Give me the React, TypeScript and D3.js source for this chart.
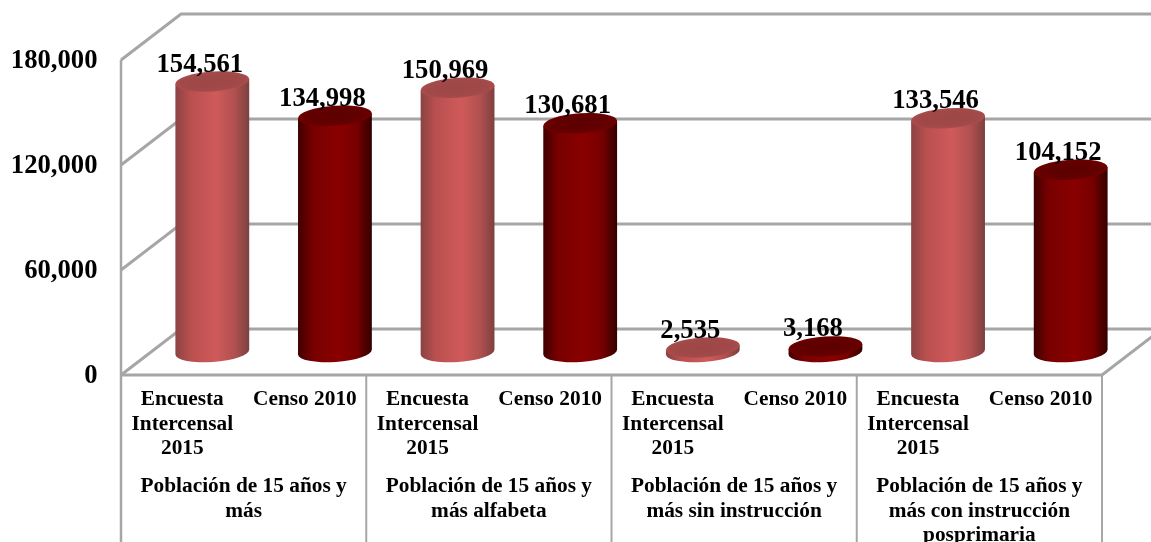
import { scaleBand, scaleLinear, format } from 'd3';

const width = 1151;
const height = 542;

const groups = [
  ['Población de 15 años y', 'más'],
  ['Población de 15 años y', 'más alfabeta'],
  ['Población de 15 años y', 'más sin instrucción'],
  ['Población de 15 años y', 'más con instrucción', 'posprimaria'],
];
const seriesNames = ['encuesta', 'censo'];
const seriesLabels = [['Encuesta', 'Intercensal', '2015'], ['Censo 2010']];
const encuesta = [154561, 150969, 2535, 133546];
const censo = [134998, 130681, 3168, 104152];
const ticks = [0, 60000, 120000, 180000];

// floor / wall geometry
const left = 121;
const right = 1102;
const depthX = 60;
const depthY = 46;
const grey = '#a6a6a6';
const font = '"Liberation Serif", "Times New Roman", serif';

const yFront = scaleLinear().domain([0, 180000]).range([375, 60]);
const yBack = (v: number) => yFront(v) - depthY;
const yBar = (v: number) => yFront(v) - depthY / 2;

const groupIds = groups.map((_, i) => String(i));
const xGroup = scaleBand().domain(groupIds).range([left, right]);
const xSeries = scaleBand().domain(seriesNames).range([0, xGroup.bandwidth()]);

const rx = 37;
const ry = 10;
const tilt = -4;

function Cylinder({ cx, value, name }: { cx: number; value: number; name: string }) {
  const top = yBar(value);
  const bottom = yBar(0);
  const dx = rx * Math.cos((tilt * Math.PI) / 180);
  const dy = rx * Math.sin((tilt * Math.PI) / 180);
  const body = `M${cx - dx},${top - dy} L${cx - dx},${bottom - dy} A${rx},${ry} ${tilt} 0 0 ${cx + dx},${bottom + dy} L${cx + dx},${top + dy} Z`;
  return (
    <g>
      <path d={body} fill={`url(#body-${name})`} />
      <ellipse
        cx={cx}
        cy={top}
        rx={rx}
        ry={ry}
        fill={`url(#top-${name})`}
        transform={`rotate(${tilt} ${cx} ${top})`}
      />
    </g>
  );
}

export default function App() {
  const fmt = format(',');
  const bars = groupIds.flatMap((g, i) =>
    seriesNames.map((s) => ({
      key: `${g}-${s}`,
      name: s,
      value: s === 'encuesta' ? encuesta[i] : censo[i],
      front: (xGroup(g) as number) + (xSeries(s) as number) + xSeries.bandwidth() / 2,
    }))
  );

  return (
    <svg
      width={width}
      height={height}
      style={{ position: 'absolute', left: 0, top: 0, background: '#fff', filter: 'blur(0.5px)' }}
      fontFamily={font}
      fontWeight="bold"
      fill="#000"
    >
      <defs>
        <linearGradient id="body-encuesta">
          <stop offset="0" stopColor="#8a4343" />
          <stop offset="0.2" stopColor="#b94f4f" />
          <stop offset="0.55" stopColor="#d05a5a" />
          <stop offset="0.8" stopColor="#b25050" />
          <stop offset="1" stopColor="#7d4040" />
        </linearGradient>
        <linearGradient id="body-censo">
          <stop offset="0" stopColor="#3f0000" />
          <stop offset="0.2" stopColor="#780000" />
          <stop offset="0.55" stopColor="#8a0000" />
          <stop offset="0.8" stopColor="#760000" />
          <stop offset="1" stopColor="#330000" />
        </linearGradient>
        <radialGradient id="top-encuesta">
          <stop offset="0" stopColor="#9c4747" />
          <stop offset="0.85" stopColor="#a24949" />
          <stop offset="1" stopColor="#ac4c4c" />
        </radialGradient>
        <radialGradient id="top-censo">
          <stop offset="0" stopColor="#5c0000" />
          <stop offset="0.85" stopColor="#640000" />
          <stop offset="1" stopColor="#700000" />
        </radialGradient>
      </defs>

      <g fill="none" stroke={grey} strokeWidth={3}>
        {/* walls and gridlines */}
        {ticks.map((t) => (
          <polyline
            key={t}
            points={`${left},${yFront(t)} ${left + depthX},${yBack(t)} ${right + depthX},${yBack(t)}`}
          />
        ))}
        <line x1={left} x2={left} y1={yFront(180000)} y2={height} strokeWidth={2.5} />
        <polyline points={`${left},${yFront(0)} ${right},${yFront(0)} ${right + depthX},${yBack(0)}`} />
        {groupIds.slice(1).concat('end').map((g) => {
          const x = g === 'end' ? right : (xGroup(g) as number);
          return <line key={g} x1={x} x2={x} y1={yFront(0)} y2={height} strokeWidth={2} />;
        })}
      </g>

      {bars.map((b) => (
        <Cylinder key={b.key} cx={b.front + depthX / 2} value={b.value} name={b.name} />
      ))}

      {bars.map((b) => (
        <text
          key={b.key}
          x={b.front + depthX / 2 - 12.5}
          y={yBar(b.value) - 10}
          fontSize={26.67}
          textAnchor="middle"
        >
          {fmt(b.value)}
        </text>
      ))}

      {ticks.map((t) => (
        <text key={t} x={97.5} y={yFront(t) + 8} fontSize={26.67} textAnchor="end">
          {fmt(t)}
        </text>
      ))}

      {bars.map((b) =>
        seriesLabels[seriesNames.indexOf(b.name)].map((line, i) => (
          <text
            key={b.key + line}
            x={b.front}
            y={405 + i * 24.5}
            fontSize={21.33}
            textAnchor="middle"
          >
            {line}
          </text>
        ))
      )}

      {groups.map((lines, i) =>
        lines.map((line, j) => (
          <text
            key={i + line}
            x={(xGroup(groupIds[i]) as number) + xGroup.bandwidth() / 2}
            y={492 + j * 24.5}
            fontSize={21.33}
            textAnchor="middle"
          >
            {line}
          </text>
        ))
      )}
    </svg>
  );
}
